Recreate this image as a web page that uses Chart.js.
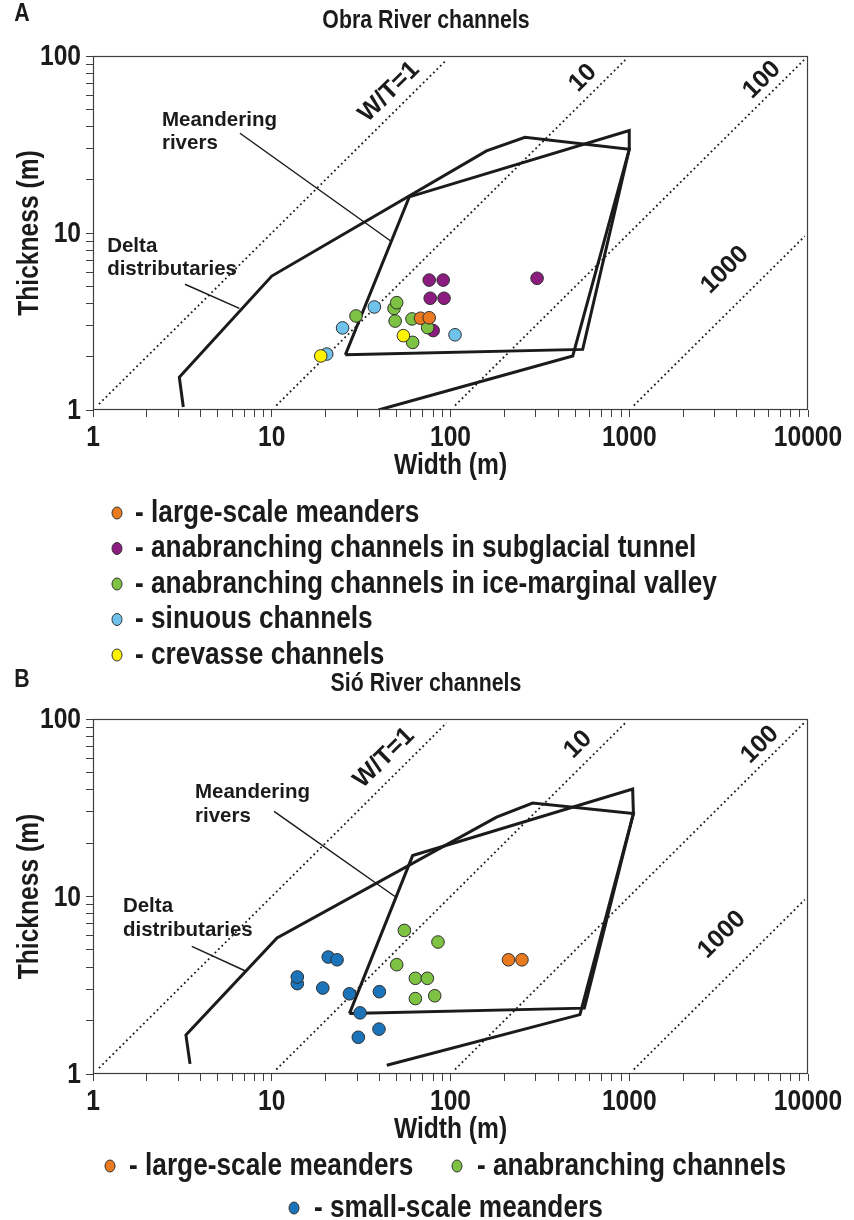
<!DOCTYPE html>
<html>
<head>
<meta charset="utf-8">
<title>Channel width vs thickness</title>
<script src="https://cdn.jsdelivr.net/npm/chart.js@4.4.1/dist/chart.umd.min.js"></script>
<style>
  html, body { margin: 0; padding: 0; background: #ffffff; }
  #page { position: relative; width: 854px; height: 1220px; overflow: hidden; background: #ffffff; }
  canvas { position: absolute; left: 0; }
  #chartA { top: 0; }
  #chartB { top: 663px; }
</style>
</head>
<body>
<div id="page">
  <canvas id="chartA" width="854" height="672"></canvas>
  <canvas id="chartB" width="854" height="557"></canvas>
</div>
<script>
// ---------- axes ----------
const widthTickLabels = ['1', '10', '100', '1000', '10000'];
const thicknessTickLabels = ['1', '10', '100'];

// ---------- width/thickness ratio guide lines (W/T = 1, 10, 100, 1000) ----------
const wtRatioLabels = ['W/T=1', '10', '100', '1000'];
const wtStartW = [1.08, 10.6, 106, 1060];
const wtStartT = [1.08, 1.06, 1.06, 1.06];
const wtEndW = [95, 950, 9500, 9600];
const wtEndT = [95, 95, 95, 9.6];

// ---------- A: Obra River channels ----------
const obraLargeW = [68, 76];
const obraLargeT = [3.30, 3.32];
const obraTunnelW = [76, 91, 77, 92, 305, 80];
const obraTunnelT = [5.42, 5.42, 4.28, 4.28, 5.55, 2.81];
const obraValleyW = [29.6, 48.3, 50, 49, 60.9, 74.5, 61.4];
const obraValleyT = [3.40, 3.75, 4.04, 3.18, 3.27, 2.92, 2.41];
const obraSinuousW = [37.5, 24.9, 20.3, 106];
const obraSinuousT = [3.82, 2.91, 2.07, 2.66];
const obraCrevasseW = [18.8, 54.5];
const obraCrevasseT = [2.02, 2.63];

const obraMeanderW = [25.8, 58.8, 1000, 1000, 549, 25.8];
const obraMeanderT = [2.05, 16.0, 37.9, 29.7, 2.20, 2.05];
const obraDeltaW = [3.20, 3.04, 10.0, 159, 261, 1000, 483, 39.5];
const obraDeltaT = [1.04, 1.53, 5.71, 29.1, 34.7, 29.7, 2.02, 1.0];
const obraMeanderLeadW = [6.64, 46.3];
const obraMeanderLeadT = [36.6, 9.01];
const obraDeltaLeadW = [3.27, 6.59];
const obraDeltaLeadT = [5.13, 3.75];

// ---------- B: Sió River channels ----------
const sioLargeW = [211, 251];
const sioLargeT = [4.40, 4.40];
const sioAnabW = [55.2, 85.1, 50.0, 63.6, 74.2, 63.6, 81.6];
const sioAnabT = [6.44, 5.54, 4.13, 3.46, 3.46, 2.66, 2.76];
const sioSmallW = [13.9, 13.9, 20.7, 23.2, 19.3, 27.2, 40.0, 31.2, 39.8, 30.5];
const sioSmallT = [3.23, 3.52, 4.56, 4.40, 3.05, 2.83, 2.91, 2.21, 1.79, 1.61];

const sioMeanderW = [27.2, 61.4, 1045, 1055, 561, 27.2];
const sioMeanderT = [2.19, 17.0, 40.3, 29.3, 2.35, 2.19];
const sioDeltaW = [3.49, 3.31, 10.7, 181, 288, 1055, 530, 44.0];
const sioDeltaT = [1.14, 1.66, 5.84, 28.0, 33.6, 29.3, 2.16, 1.12];
const sioMeanderLeadW = [10.3, 48.9];
const sioMeanderLeadT = [30.2, 10.0];
const sioDeltaLeadW = [3.57, 7.18];
const sioDeltaLeadT = [5.24, 3.79];

// ---------- styling ----------
const INK = '#1b1b1b';
const FRAME = '#3f3f3f';
const FONT = "'Liberation Sans', Arial, Helvetica, sans-serif";
const NARROW = 0.82;           // horizontal squeeze for the condensed captions
const C_ORANGE = '#E97A1F';
const C_PURPLE = '#8D1C80';
const C_GREEN = '#7DC242';
const C_SKY = '#6EC2EC';
const C_YELLOW = '#FFF200';
const C_BLUE = '#1B74BA';

function pairs(ws, ts) { return ws.map((w, i) => ({ x: w, y: ts[i] })); }

function decadeTicks(labels) {
  const tops = labels.map(Number);
  const vals = [];
  for (let i = 0; i < tops.length - 1; i++) {
    for (let k = 1; k < 10; k++) vals.push(tops[i] * k);
  }
  vals.push(tops[tops.length - 1]);
  return vals;
}

function pointSet(label, ws, ts, color, order) {
  return {
    label, data: pairs(ws, ts), backgroundColor: color, borderColor: '#2e2e2e',
    borderWidth: 1, pointRadius: 6.3, pointHoverRadius: 6.3, showLine: false, order
  };
}
function outline(label, ws, ts, width) {
  return {
    label, data: pairs(ws, ts), showLine: true, borderColor: INK, borderWidth: width,
    pointRadius: 0, pointHoverRadius: 0, fill: false, tension: 0,
    borderJoinStyle: 'miter', order: 30
  };
}
function ratioSets() {
  return wtRatioLabels.map((lab, i) => ({
    label: 'W/T ' + lab, data: pairs([wtStartW[i], wtEndW[i]], [wtStartT[i], wtEndT[i]]),
    showLine: true, borderColor: '#1e1e1e', borderWidth: 1.8, borderDash: [1.8, 3.0],
    pointRadius: 0, pointHoverRadius: 0, fill: false, order: 40
  }));
}

// condensed bold caption
function narrowText(ctx, txt, x, y, size, align, rot) {
  ctx.save();
  ctx.translate(x, y);
  if (rot) ctx.rotate(rot);
  ctx.scale(NARROW, 1);
  ctx.font = 'bold ' + size + 'px ' + FONT;
  ctx.textAlign = align;
  ctx.textBaseline = 'middle';
  ctx.fillStyle = INK;
  ctx.fillText(txt, 0, 0);
  ctx.restore();
}

// titles, tick labels, annotations, frame and key
function notesPlugin(spec) {
  return {
    id: 'riverNotes',
    afterDatasetsDraw(chart) {
      const { ctx, chartArea: a, scales: { x, y } } = chart;
      ctx.save();
      // plot frame
      ctx.strokeStyle = FRAME; ctx.lineWidth = 1.2;
      ctx.strokeRect(Math.round(a.left) + 0.5, Math.round(a.top) + 0.5,
        Math.round(a.right - a.left) - 1, Math.round(a.bottom - a.top) - 1);

      // tick labels on the decades
      widthTickLabels.forEach(lab => {
        narrowText(ctx, lab, x.getPixelForValue(Number(lab)), a.bottom + 28, 30, 'center');
      });
      thicknessTickLabels.forEach(lab => {
        narrowText(ctx, lab, a.left - 12, y.getPixelForValue(Number(lab)) + 1, 30, 'right');
      });
      // axis titles and chart title
      narrowText(ctx, 'Width (m)', (a.left + a.right) / 2, a.bottom + 56, 30, 'center');
      narrowText(ctx, 'Thickness (m)', 30, (a.top + a.bottom) / 2, 30, 'center', -Math.PI / 2);
      narrowText(ctx, spec.title, 426, 21, 26, 'center');

      ctx.fillStyle = INK;
      // field names
      ctx.font = 'bold 20.5px ' + FONT;
      ctx.textAlign = 'left'; ctx.textBaseline = 'middle';
      spec.fieldNotes.forEach(n => {
        const px = x.getPixelForValue(n.w), py = y.getPixelForValue(n.t);
        n.lines.forEach((ln, k) => ctx.fillText(ln, px, py + k * 23.5));
      });
      // ratio labels along the dotted lines
      ctx.font = 'bold 25px ' + FONT;
      ctx.textAlign = 'center'; ctx.textBaseline = 'middle';
      wtRatioLabels.forEach((lab, i) => {
        const x0 = x.getPixelForValue(wtStartW[i]), y0 = y.getPixelForValue(wtStartT[i]);
        const x1 = x.getPixelForValue(wtEndW[i]), y1 = y.getPixelForValue(wtEndT[i]);
        const ang = Math.atan2(y1 - y0, x1 - x0);
        const p = spec.ratioNotes[i];
        ctx.save();
        ctx.translate(x.getPixelForValue(p[0]), y.getPixelForValue(p[1]));
        ctx.rotate(ang);
        ctx.fillText(lab, 0, 0);
        ctx.restore();
      });
      // panel letter
      narrowText(ctx, spec.letter, spec.letterPos[0], spec.letterPos[1], 26, 'center');
      // key
      spec.key.forEach(k => {
        const ds = chart.data.datasets[k.ds];
        ctx.beginPath();
        ctx.ellipse(k.mx, k.y, 5, 6, 0, 0, Math.PI * 2);
        ctx.fillStyle = ds.backgroundColor; ctx.fill();
        ctx.lineWidth = 1; ctx.strokeStyle = '#333'; ctx.stroke();
        narrowText(ctx, '- ' + ds.label, k.tx, k.y, 32, 'left');
      });
      ctx.restore();
    }
  };
}

function buildChart(canvasId, spec) {
  const xTicks = decadeTicks(widthTickLabels);
  const yTicks = decadeTicks(thicknessTickLabels);
  return new Chart(document.getElementById(canvasId), {
    type: 'scatter',
    data: { datasets: spec.datasets },
    options: {
      responsive: false,
      animation: false,
      events: [],
      layout: { padding: { left: 0, right: 46, top: 56, bottom: spec.bottomPad } },
      plugins: {
        legend: { display: false },
        tooltip: { enabled: false },
        title: { display: false }
      },
      scales: {
        x: {
          type: 'logarithmic', min: 1, max: 10000,
          afterBuildTicks: s => { s.ticks = xTicks.map(v => ({ value: v })); },
          afterFit: s => { s.height = 70; },
          ticks: { display: false, autoSkip: false },
          grid: { drawOnChartArea: false, drawTicks: true, tickLength: 7, tickColor: FRAME, tickWidth: 1 },
          border: { display: false }
        },
        y: {
          type: 'logarithmic', min: 1, max: 100,
          afterBuildTicks: s => { s.ticks = yTicks.map(v => ({ value: v })); },
          afterFit: s => { s.width = 93; },
          ticks: { display: false, autoSkip: false },
          grid: { drawOnChartArea: false, drawTicks: true, tickLength: 7, tickColor: FRAME, tickWidth: 1 },
          border: { display: false }
        }
      }
    },
    plugins: [notesPlugin(spec)]
  });
}

// ---------- panel A ----------
buildChart('chartA', {
  title: 'Obra River channels',
  letter: 'A', letterPos: [22, 14],
  bottomPad: 672 - 410 - 70,
  datasets: [
    pointSet('large-scale meanders', obraLargeW, obraLargeT, C_ORANGE, 3),
    pointSet('anabranching channels in subglacial tunnel', obraTunnelW, obraTunnelT, C_PURPLE, 5),
    pointSet('anabranching channels in ice-marginal valley', obraValleyW, obraValleyT, C_GREEN, 4),
    pointSet('sinuous channels', obraSinuousW, obraSinuousT, C_SKY, 2),
    pointSet('crevasse channels', obraCrevasseW, obraCrevasseT, C_YELLOW, 1),
    outline('Meandering rivers', obraMeanderW, obraMeanderT, 3),
    outline('Delta distributaries', obraDeltaW, obraDeltaT, 3),
    outline('Meandering rivers leader', obraMeanderLeadW, obraMeanderLeadT, 1.5),
    outline('Delta distributaries leader', obraDeltaLeadW, obraDeltaLeadT, 1.5),
    ...ratioSets()
  ],
  fieldNotes: [
    { lines: ['Meandering', 'rivers'], w: 2.43, t: 43.5 },
    { lines: ['Delta', 'distributaries'], w: 1.20, t: 8.44 }
  ],
  ratioNotes: [[45.3, 62.6], [551, 75.1], [5530, 73.2], [3430, 6.18]],
  key: [
    { ds: 0, mx: 117, tx: 135, y: 513 },
    { ds: 1, mx: 117, tx: 135, y: 548.5 },
    { ds: 2, mx: 117, tx: 135, y: 584 },
    { ds: 3, mx: 117, tx: 135, y: 619.5 },
    { ds: 4, mx: 117, tx: 135, y: 655 }
  ]
});

// ---------- panel B ----------
buildChart('chartB', {
  title: 'Sió River channels',
  letter: 'B', letterPos: [22, 17],
  bottomPad: 557 - 411 - 70,
  datasets: [
    pointSet('large-scale meanders', sioLargeW, sioLargeT, C_ORANGE, 1),
    pointSet('anabranching channels', sioAnabW, sioAnabT, C_GREEN, 2),
    pointSet('small-scale meanders', sioSmallW, sioSmallT, C_BLUE, 3),
    outline('Meandering rivers', sioMeanderW, sioMeanderT, 3),
    outline('Delta distributaries', sioDeltaW, sioDeltaT, 3),
    outline('Meandering rivers leader', sioMeanderLeadW, sioMeanderLeadT, 1.5),
    outline('Delta distributaries leader', sioDeltaLeadW, sioDeltaLeadT, 1.5),
    ...ratioSets()
  ],
  fieldNotes: [
    { lines: ['Meandering', 'rivers'], w: 3.72, t: 38.6 },
    { lines: ['Delta', 'distributaries'], w: 1.47, t: 8.80 }
  ],
  ratioNotes: [[42.5, 60.3], [517, 71.7], [5390, 71.7], [3300, 6.09]],
  key: [
    { ds: 0, mx: 110, tx: 129, y: 503 },
    { ds: 1, mx: 457, tx: 477, y: 503 },
    { ds: 2, mx: 294, tx: 314, y: 545 }
  ]
});
</script>
</body>
</html>
